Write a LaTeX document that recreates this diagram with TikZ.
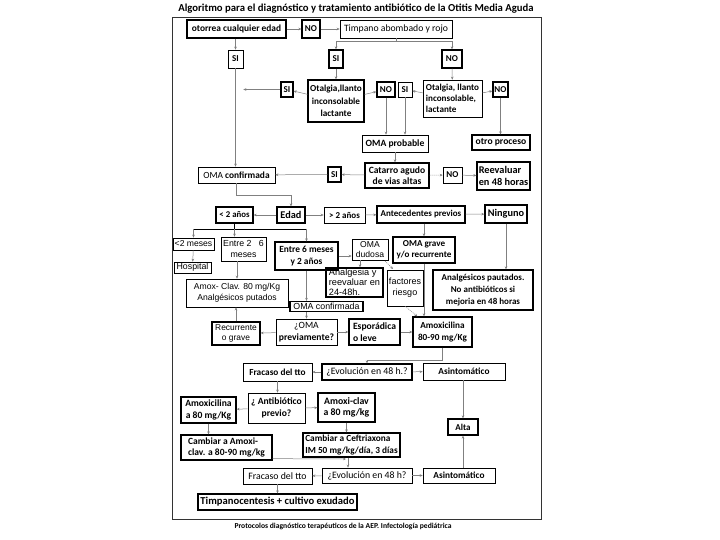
\documentclass[tikz,border=0pt]{standalone}
\usepackage{fontspec}
\setmainfont{Carlito}
\newfontfamily\arialf{Liberation Sans}
\usetikzlibrary{arrows.meta,calc}
\newcommand{\fs}[2]{\fontsize{#1}{#2}\selectfont}
\begin{document}
\begin{tikzpicture}[x=1pt,y=-1pt,
  b/.style={draw, line width=0.6pt, inner sep=0pt, align=center, font=\fs{9}{11}},
  B/.style={b, line width=1.3pt},
  tb/.style={font=\bfseries\fs{9}{11}},
  wh/.style 2 args={minimum width=#1pt, minimum height=#2pt},
  c/.style={draw=gray, line width=0.5pt, -{Stealth[length=3pt,width=2.6pt]}},
  l/.style={draw=gray, line width=0.5pt},
  dt/.style={c, dash pattern=on 1pt off 1pt}
]
\useasboundingbox (0,0) rectangle (720,540);
\node[font=\bfseries\fs{10.7}{12}] (title) at (356,9) {Algoritmo para el diagnóstico y tratamiento antibiótico de la Otitis Media Aguda};
\draw[line width=0.9pt, black!80] (172,17) rectangle (541,519);
\node[font=\bfseries\fs{7.6}{8}] (foot) at (343,526) {Protocolos diagnóstico terapéuticos de la AEP. Infectología pediátrica};

% row 1
\node[B,wh={99}{18},font=\bfseries\fs{9.4}{11}] (otorrea) at (236.5,29) {otorrea cualquier edad};
\node[B,tb,wh={18}{18}] (no1) at (311,29) {NO};
\node[b,wh={112}{18},font=\fs{9.7}{11}] (timpano) at (396,29) {Timpano abombado y rojo};
\node[b,tb,wh={15}{18}] (si1) at (235.5,59) {SI};
\node[B,tb,wh={14}{18}] (si2) at (336,59) {SI};
\node[B,tb,wh={20}{18}] (no2) at (452,59) {NO};
% row 3
\node[B,tb,wh={12}{15}] (si3) at (287,89.5) {SI};
\node[B,wh={56}{42},font=\bfseries\fs{9.2}{12.5}] (otal1) at (336,101) {Otalgia,llanto\\inconsolable\\lactante};
\node[B,tb,wh={18}{15}] (no3) at (386,89.5) {NO};
\node[b,tb,wh={14}{15}] (si4) at (405,89.5) {SI};
\node[b,wh={59}{37},align=left,font=\bfseries\fs{9.1}{11}] (otal2) at (452.5,98.5) {Otalgia, llanto\\inconsolable,\\lactante};
\node[B,tb,wh={15}{15}] (no4) at (500.5,89.5) {NO};
\node[b,wh={66}{17},font=\bfseries\fs{9.6}{11}] (omaprob) at (395,143.5) {OMA probable};
\node[B,wh={58}{15},font=\bfseries\fs{9.6}{11}] (otro) at (501,142.5) {otro proceso};
\node[B,wh={64}{25},font=\bfseries\fs{9.6}{10.5}] (catarro) at (397,175.5) {Catarro agudo\\de vias altas};
\node[B,tb,wh={13}{15}] (si5) at (334.5,174.5) {SI};
\node[b,wh={77}{16},font=\fs{9.4}{11}] (omaconf) at (236.5,175) {OMA \textbf{confirmada}};
\node[b,tb,wh={19}{16}] (no5) at (452.5,175) {NO};
\node[B,wh={53}{28},align=left,font=\bfseries\fs{10.3}{11.5}] (reev) at (503.5,176) {Reevaluar\\en 48 horas};
% edad row
\node[B,wh={28}{16},font=\bfseries\fs{10.3}{11}] (edad) at (291,215) {Edad};
\node[B,wh={37}{16},font=\bfseries\fs{8.8}{11}] (men2) at (234.5,215) {< 2 años};
\node[b,tb,wh={41}{16}] (may2) at (344.5,215) {> 2 años};
\node[B,tb,wh={88}{17}] (antec) at (421,214.5) {Antecedentes previos};
\node[B,wh={42}{18},font=\bfseries\fs{10.3}{11}] (ninguno) at (506,214) {Ninguno};
% age groups
\node[b,wh={41}{12},font=\arialf\fs{8.6}{10}] (men2m) at (193.5,244) {<2 meses};
\node[b,wh={37}{11},font=\arialf\fs{8.8}{10}] (hosp) at (192.5,267.5) {Hospital};
\node[b,wh={45}{24},font=\arialf\fs{8.8}{10.5}] (entre26) at (243.5,249) {Entre 2 \ \ 6\\meses};
\node[B,wh={63}{28},font=\bfseries\fs{9.4}{12}] (entre6) at (306.5,256) {Entre 6 meses\\y 2 años};
\node[b,wh={36}{21},font=\arialf\fs{8.6}{10.5}] (dudosa) at (370,249.5) {OMA\\dudosa};
\node[B,wh={62}{26},font=\bfseries\fs{9.1}{11}] (grave) at (424,250) {OMA grave\\y/o recurrente};
\node[B,wh={57}{29},align=left,font=\arialf\fs{9.2}{9.8}] (analgesia) at (354.5,282.5) {Analgesia y\\reevaluar en\\24-48h.};
\node[b,wh={36}{36},font=\arialf\fs{9}{11}] (factores) at (405,288) {factores\\riesgo};
\node[B,wh={100}{40},font=\bfseries\fs{9}{12}] (analgpaut) at (483,290) {Analgésicos pautados.\\No antibióticos si\\mejoria en 48 horas};
\node[b,wh={102}{28},font=\arialf\fs{8.6}{11}] (amoxclav) at (237,293) {Amox- Clav. 80 mg/Kg\\Analgésicos putados};
\node[B,wh={73}{10},font=\arialf\fs{8.8}{9}] (omaconf2) at (326.5,306.5) {OMA confirmada};
% OMA previamente row
\node[b,wh={61}{26},font=\fs{9.6}{11.5}] (omaprev) at (306.5,332) {¿OMA\\\textbf{previamente?}};
\node[B,wh={48}{23},font=\arialf\fs{8.4}{10.5}] (recurr) at (236,333.5) {Recurrente\\o grave};
\node[B,wh={51}{26},align=left,font=\bfseries\fs{9.6}{11.5}] (espor) at (374.5,332) {Esporádica\\o leve};
\node[B,wh={59}{30},font=\bfseries\fs{9.2}{12.5}] (amoxi) at (442.5,332) {Amoxicilina\\80-90 mg/Kg};
% evolucion 1
\node[B,wh={90}{16},font=\fs{9.8}{11}] (evol1) at (367,372) {¿Evolución en 48 h.?};
\node[b,wh={69}{18},font=\bfseries\fs{9.3}{11}] (fracaso1) at (277.5,372) {Fracaso del tto};
\node[b,wh={82}{17},font=\bfseries\fs{9.3}{11}] (asint1) at (464,371.5) {Asintomático};
% antibiotico
\node[b,wh={57}{30},font=\bfseries\fs{9.6}{11.5}] (antib) at (276.5,408) {¿ Antibiótico\\previo?};
\node[B,wh={55}{26},font=\bfseries\fs{9.6}{11.5}] (amox80) at (208.5,410) {Amoxicilina\\a 80 mg/Kg};
\node[B,wh={57}{29},font=\bfseries\fs{9.8}{11.5}] (amoxiclav80) at (346.5,407.5) {Amoxi-clav\\a 80 mg/kg};
\node[B,tb,wh={30}{16}] (alta) at (463,427) {Alta};
\node[B,wh={91}{25},align=left,font=\bfseries\fs{9.5}{11.5}] (cambamox) at (226.5,447.5) {Cambiar a Amoxi-\\clav. a 80-90 mg/kg};
\node[B,wh={97}{24},align=left,font=\bfseries\fs{9.3}{11.5}] (ceftri) at (351.5,445) {Cambiar a Ceftriaxona\\IM 50 mg/kg/día, 3 días};
% evolucion 2
\node[b,wh={90}{15},font=\fs{9.8}{11}] (evol2) at (367,475.5) {¿Evolución en 48 h?};
\node[b,wh={69}{16},font=\fs{9.8}{11}] (fracaso2) at (277.5,476) {Fracaso del tto};
\node[b,wh={72}{15},font=\bfseries\fs{9.3}{11}] (asint2) at (459,475.5) {Asintomático};
\node[B,wh={159}{16},font=\bfseries\fs{10.6}{11.5}] (timpcent) at (277.5,502) {Timpanocentesis + cultivo exudado};

% connectors
\draw[c] (otorrea) -- (no1);
\draw[c] (no1) -- (timpano);
\coordinate (tb) at (396,41);
\draw[l] (timpano.south) -- (tb);
\draw[c] (tb) -| (si2);
\draw[c] (tb) -| (no2);
\draw[c] (si1 |- otorrea.south) -- (si1.north);
\draw[c] (si1.south) -- (si1 |- omaconf.north);
\draw[c] (si3.west) -- (si3.west -| si1.east);
\draw[c] (otal1) -- (si3);
\draw[c] (si2) -- (otal1);
\draw[c] (otal1) -- (no3);
\draw[c] (otal2) -- (si4);
\draw[c] (no2) -- (otal2);
\draw[c] (otal2) -- (no4);
\draw[c] (no4.south) -- (no4.south |- otro.north);
\draw[c] (no3.south) -- (no3.south |- omaprob.north);
\draw[c] (si4.south) -- (si4.south |- omaprob.north);
\draw[c] (omaprob) -- (omaprob.south |- catarro.north);
\draw[c] (catarro) -- (si5);
\draw[c] (si5) -- (omaconf);
\draw[dt] (catarro) -- (no5);
\draw[c] (no5) -- (reev);
\draw[c] (omaconf.south) -- ++(0,12) -| (edad.north);
\draw[c] (edad) -- (men2);
\draw[c] (edad) -- (may2);
\draw[c] (may2) -- (antec);
\draw[c] (antec) -- (ninguno);
\draw[c] (grave |- antec.south) -- (grave.north);
\draw[c] (ninguno.south) -- (ninguno.south |- analgpaut.north);
\coordinate (mb) at (234.5,229);
\draw[line width=0.8pt] (men2.south) -- (mb);
\draw[line width=0.8pt] (mb -| men2m) -- (mb -| entre6);
\draw[c] (mb -| men2m) -- (men2m.north);
\draw[c] (mb) -- (mb |- entre26.north);
\draw[c] (mb -| entre6) -- (entre6.north);
\draw[c] (men2m) -- (hosp);
\draw[c] (amoxclav |- entre26.south) -- (amoxclav.north);
\draw[c] (entre6.east) -- (entre6.east -| dudosa.west);
\coordinate (dd) at (360,260);
\draw[c] (dd) -- (dd |- analgesia.north);
\draw[dt] (385,261) -- (393,269);
\draw[dt] (factores.south) -- ($(amoxi.north west)+(5,0)$);
\draw[c] (grave.south) -- (grave.south |- amoxi.north);
\draw[c] (entre6.south) -- (entre6.south |- omaconf2.north);
\draw[c] (omaprev |- omaconf2.south) -- (omaprev.north);
\draw[c] (omaprev) -- (recurr);
\draw[c] (recurr.north) -- (recurr.north |- amoxclav.south);
\draw[c] (omaprev) -- (espor);
\draw[c] (espor) -- (amoxi);
\draw[c] (amoxi.south) -- ++(0,13) -| (evol1.north);
\draw[c] (evol1) -- (fracaso1);
\draw[c] (evol1) -- (asint1);
\draw[c] (alta |- asint1.south) -- (alta.north);
\draw[c] (fracaso1.south) -- (fracaso1.south |- antib.north);
\draw[c] (antib) -- (amox80);
\draw[c] (antib) -- (amoxiclav80);
\draw[c] (amox80.south) -- (amox80.south |- cambamox.north);
\draw[c] (amoxiclav80.south) -- (amoxiclav80.south |- ceftri.north);
\coordinate (cv) at (348,459);
\draw[c] ($(cambamox.south east)+(0,-2)$) -- ($(cv)+(-2,0)$);
\draw[c] (cv |- ceftri.south) -- (cv |- evol2.north);
\draw[c] (evol2) -- (fracaso2);
\draw[c] (evol2) -- (asint2);
\draw[c] (alta |- asint2.north) -- (alta.south);
\draw[c] (fracaso2.south) -- (fracaso2.south |- timpcent.north);
\end{tikzpicture}
\end{document}
